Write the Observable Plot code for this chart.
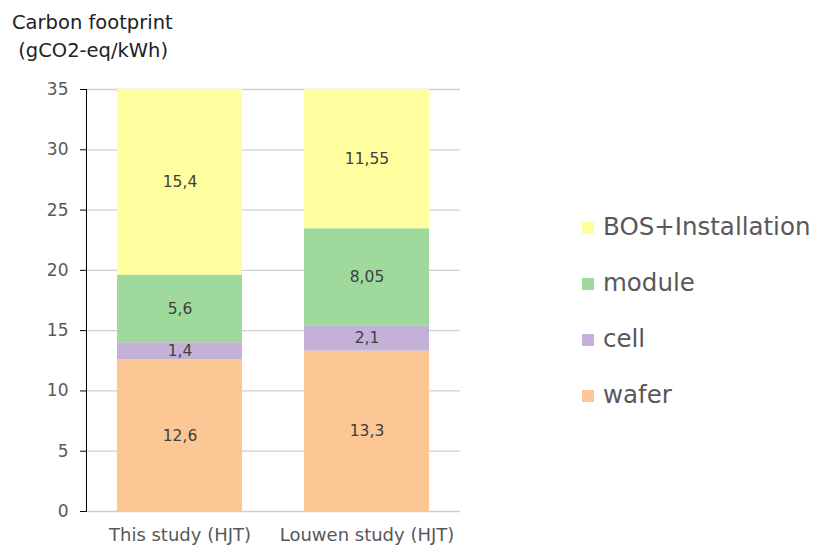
<!DOCTYPE html>
<html>
<head>
<meta charset="utf-8">
<script src="https://cdn.jsdelivr.net/npm/d3@7"></script>
<script src="https://cdn.jsdelivr.net/npm/@observablehq/plot@0.6"></script>
<style>
  html, body { margin: 0; padding: 0; background: #fff; }
  #wrap { position: relative; width: 815px; height: 547px; font-family: "DejaVu Sans", sans-serif; }
  #title { position: absolute; left: 12px; top: 9px; font-size: 19.5px; line-height: 28px; color: #222; }
  #legend { position: absolute; left: 582px; top: 0; }
  .li { position: absolute; left: 0; white-space: nowrap; font-size: 24.5px; color: #595959; }
  .sw { display: inline-block; width: 12px; height: 12px; margin-right: 9px; vertical-align: 1px; }
</style>
</head>
<body>
<div id="wrap">
  <div id="title">Carbon footprint<br>&nbsp;(gCO2-eq/kWh)</div>
  <div id="legend"></div>
</div>
<script>
const categories = ["This study (HJT)", "Louwen study (HJT)"];
const series = ["wafer", "cell", "module", "BOS+Installation"];
const colors = ["#FBC895", "#C3B1D7", "#9FD99B", "#FFFFA0"];
const waferValues = [12.6, 13.3];
const cellValues = [1.4, 2.1];
const moduleValues = [5.6, 8.05];
const bosValues = [15.4, 11.55];
const yTicks = [0, 5, 10, 15, 20, 25, 30, 35];

const seriesValues = [waferValues, cellValues, moduleValues, bosValues];
const data = [];
series.forEach((s, i) => categories.forEach((c, j) => data.push({cat: c, series: s, value: seriesValues[i][j]})));

const fmt = v => String(v).replace(".", ",");

const chart = Plot.plot({
  width: 815,
  height: 547,
  marginLeft: 86,
  marginRight: 355,
  marginTop: 89,
  marginBottom: 36,
  style: {fontFamily: "DejaVu Sans, sans-serif", background: "transparent"},
  x: {domain: categories, paddingInner: 0.332, paddingOuter: 0.166, label: null},
  y: {domain: [0, 35], ticks: yTicks, label: null},
  color: {domain: series, range: colors},
  marks: [
    Plot.ruleY(yTicks, {stroke: "#d0d0d0", strokeWidth: 1.3}),
    Plot.barY(data, {x: "cat", y: "value", fill: "series", order: null}),
    Plot.text(data, Plot.stackY({x: "cat", y: "value", text: d => fmt(d.value), order: null, fill: "#404040", fontSize: 15.5})),
    Plot.frame({anchor: "left", stroke: "#000", strokeWidth: 1}),
    Plot.axisY({ticks: yTicks, tickSize: 6, tickPadding: 12, fontSize: 17, stroke: "#000", fill: "#595959"}),
    Plot.axisX({tickSize: 0, tickPadding: 17, fontSize: 18, fill: "#595959"})
  ]
});
document.getElementById("wrap").prepend(chart);
chart.style.position = "absolute";
chart.style.left = "0";
chart.style.top = "0";

const legendOrder = [3, 2, 1, 0];
const tops = [212, 268, 324, 380];
const lg = document.getElementById("legend");
legendOrder.forEach((k, i) => {
  const d = document.createElement("div");
  d.className = "li";
  d.style.top = tops[i] + "px";
  d.innerHTML = `<span class="sw" style="background:${colors[k]}"></span>${series[k]}`;
  lg.appendChild(d);
});
</script>
</body>
</html>
